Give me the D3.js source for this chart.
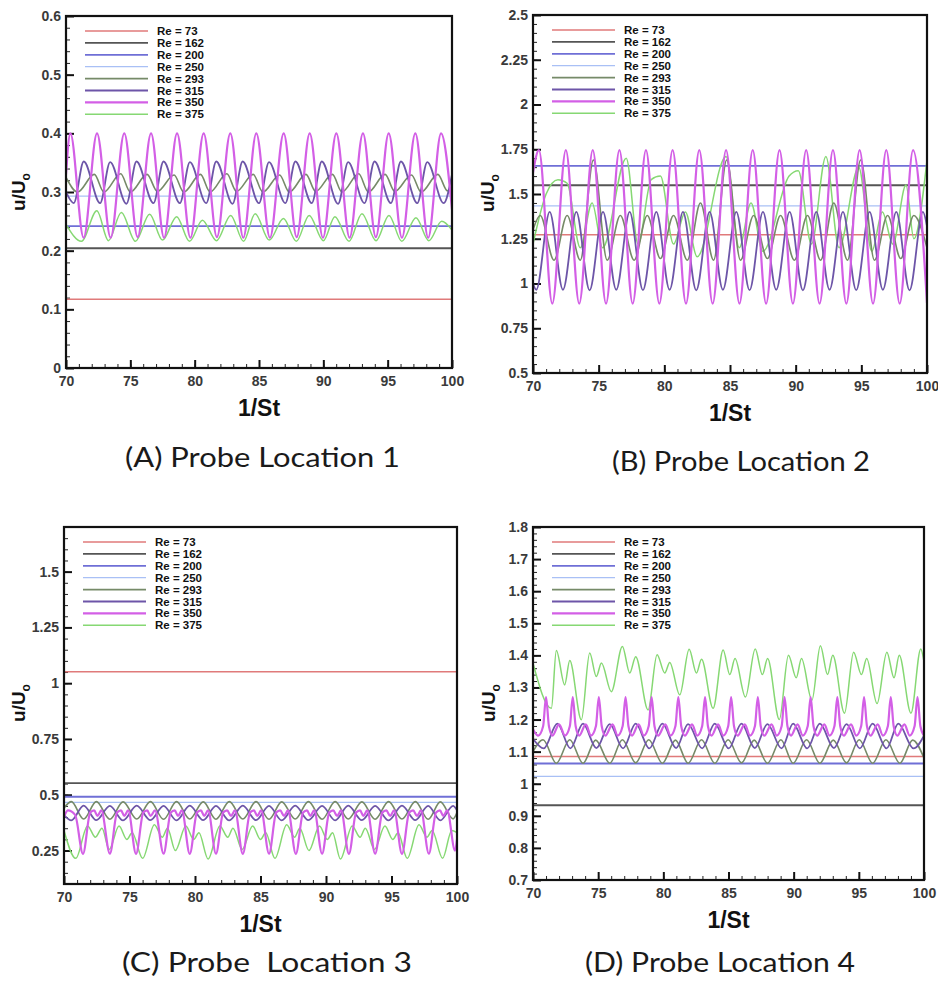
<!DOCTYPE html>
<html><head><meta charset="utf-8">
<script src="https://cdn.jsdelivr.net/npm/d3@7"></script>
<style>body{margin:0;background:#fff}svg{display:block}</style>
</head><body>
<svg id="chart" width="938" height="994"></svg>
<script>
// ---------- categories / ticks ----------
const reValues = [73, 162, 200, 250, 293, 315, 350, 375];
const xTicks = [70, 75, 80, 85, 90, 95, 100];
const yTicksA = [0, 0.1, 0.2, 0.3, 0.4, 0.5, 0.6];
const yTicksB = [0.5, 0.75, 1, 1.25, 1.5, 1.75, 2, 2.25, 2.5];
const yTicksC = [0.25, 0.5, 0.75, 1, 1.25, 1.5];
const yTicksD = [0.7, 0.8, 0.9, 1, 1.1, 1.2, 1.3, 1.4, 1.5, 1.6, 1.7, 1.8];
const captions = ["(A) Probe Location 1", "(B) Probe Location 2", "(C) Probe  Location 3", "(D) Probe Location 4"];

// ---------- Panel A (probe 1) ----------
const A73 = [[70,0.117],[100,0.117]];
const A162 = [[70,0.204],[100,0.204]];
const A200 = [[70,0.242],[100,0.242]];
const A250 = [[70,0.293],[100,0.293]];
const A293 = [[70,0.325],[70.9,0.300],[72.2,0.330],[72.95,0.300],[74.25,0.331],[75.0,0.300],[76.3,0.330],[77.1,0.301],[78.4,0.329],[79.15,0.300],[80.45,0.330],[81.2,0.300],[82.5,0.331],[83.25,0.301],[84.55,0.330],[85.3,0.300],[86.6,0.329],[87.35,0.300],[88.65,0.330],[89.4,0.301],[90.7,0.330],[91.45,0.300],[92.75,0.331],[93.5,0.300],[94.8,0.330],[95.55,0.301],[96.85,0.329],[97.6,0.300],[98.9,0.330],[99.65,0.302],[100,0.31]];
const A315 = [[70,0.30],[70.6,0.281],[71.38,0.352],[72.65,0.281],[73.43,0.351],[74.7,0.280],[75.48,0.352],[76.8,0.281],[77.58,0.352],[78.85,0.281],[79.63,0.351],[80.9,0.281],[81.68,0.352],[82.95,0.280],[83.73,0.352],[85.0,0.281],[85.78,0.351],[87.05,0.281],[87.83,0.352],[89.1,0.281],[89.88,0.352],[91.15,0.280],[91.93,0.351],[93.2,0.281],[93.98,0.352],[95.25,0.281],[96.03,0.352],[97.3,0.281],[98.08,0.351],[99.35,0.281],[100,0.33]];
const A350 = [[70,0.33],[70.34,0.40],[71.37,0.222],[72.41,0.40],[73.47,0.222],[74.53,0.40],[75.57,0.223],[76.61,0.40],[77.62,0.222],[78.63,0.40],[79.67,0.222],[80.70,0.40],[81.73,0.223],[82.77,0.40],[83.78,0.222],[84.79,0.40],[85.85,0.222],[86.92,0.40],[87.93,0.223],[88.94,0.40],[89.97,0.222],[91.01,0.40],[92.04,0.222],[93.08,0.40],[94.08,0.223],[95.08,0.40],[96.11,0.222],[97.15,0.40],[98.15,0.222],[99.15,0.40],[100,0.27]];
const A375 = [[70,0.245],[71.2,0.216],[72.4,0.268],[73.3,0.217],[74.3,0.265],[75.4,0.216],[76.5,0.262],[77.5,0.218],[78.6,0.258],[79.6,0.216],[80.6,0.252],[81.7,0.217],[82.8,0.26],[83.8,0.216],[84.7,0.263],[85.8,0.218],[86.9,0.255],[87.9,0.216],[88.9,0.26],[90.0,0.217],[90.9,0.258],[92.0,0.216],[93.0,0.263],[94.1,0.217],[95.1,0.26],[96.1,0.216],[97.2,0.256],[98.2,0.217],[99.2,0.25],[100,0.235]];

// ---------- Panel B (probe 2) ----------
const B73 = [[70,1.273],[100,1.273]];
const B162 = [[70,1.549],[100,1.549]];
const B200 = [[70,1.657],[100,1.657]];
const B250 = [[70,1.434],[100,1.434]];
const B293 = [[70,1.30],[70.55,1.38],[71.6,1.13],[72.6,1.38],[73.6,1.13],[74.6,1.69],[75.65,1.13],[76.65,1.38],[77.7,1.13],[78.7,1.38],[79.7,1.14],[80.7,1.38],[81.75,1.13],[82.75,1.45],[83.75,1.13],[84.75,1.69],[85.8,1.13],[86.8,1.38],[87.85,1.14],[88.85,1.38],[89.9,1.13],[90.9,1.38],[91.9,1.13],[92.9,1.45],[93.95,1.13],[94.95,1.69],[96.0,1.13],[97.0,1.38],[98.0,1.14],[99.0,1.38],[100,1.2]];
const B315 = [[70,1.0],[70.25,0.965],[71.27,1.40],[72.28,0.965],[73.3,1.40],[74.31,0.962],[75.33,1.40],[76.34,0.965],[77.36,1.40],[78.37,0.963],[79.39,1.40],[80.4,0.965],[81.42,1.40],[82.43,0.962],[83.45,1.40],[84.46,0.965],[85.48,1.40],[86.49,0.963],[87.51,1.40],[88.52,0.965],[89.54,1.40],[90.55,0.962],[91.57,1.40],[92.58,0.965],[93.6,1.40],[94.61,0.963],[95.63,1.40],[96.64,0.965],[97.66,1.40],[98.67,0.962],[99.69,1.40],[100,1.32]];
const B350 = [[70,1.62],[70.45,1.745],[71.47,0.888],[72.5,1.745],[73.52,0.888],[74.55,1.745],[75.56,0.888],[76.58,1.745],[77.59,0.888],[78.6,1.745],[79.62,0.888],[80.63,1.745],[81.65,0.888],[82.66,1.745],[83.68,0.888],[84.7,1.745],[85.72,0.888],[86.73,1.745],[87.75,0.888],[88.77,1.745],[89.79,0.888],[90.8,1.745],[91.82,0.888],[92.84,1.745],[93.86,0.888],[94.87,1.745],[95.89,0.888],[96.9,1.745],[97.92,0.888],[98.94,1.745],[100,0.89]];
const B375 = [[70,1.22],[71.0,1.50],[71.9,1.58],[72.6,1.56],[73.6,1.20],[74.5,1.45],[75.3,1.20],[77.1,1.70],[78.0,1.22],[79.0,1.58],[79.7,1.60],[80.7,1.22],[81.6,1.40],[82.5,1.15],[84.7,1.71],[85.7,1.20],[86.6,1.45],[87.5,1.18],[89.5,1.60],[90.2,1.63],[91.2,1.22],[92.3,1.71],[93.3,1.20],[94.8,1.65],[95.8,1.18],[96.6,1.40],[97.4,1.22],[98.4,1.55],[99.0,1.25],[100,1.69]];

// ---------- Panel C (probe 3) ----------
const C73 = [[70,1.051],[100,1.051]];
const C162 = [[70,0.552],[100,0.552]];
const C200 = [[70,0.491],[100,0.491]];
const C250 = [[70,0.466],[100,0.466]];
const C293 = [[70,0.44],[70.56,0.469],[71.5,0.391],[72.47,0.469],[73.5,0.39],[74.51,0.468],[75.55,0.391],[76.6,0.469],[77.6,0.39],[78.59,0.469],[79.6,0.391],[80.63,0.468],[81.6,0.39],[82.62,0.469],[83.65,0.391],[84.66,0.469],[85.65,0.39],[86.62,0.468],[87.65,0.391],[88.66,0.469],[89.7,0.39],[90.7,0.469],[91.7,0.391],[92.74,0.468],[93.75,0.39],[94.78,0.469],[95.8,0.391],[96.82,0.469],[97.8,0.39],[98.73,0.468],[99.7,0.392],[100,0.42]];
const C315 = [[70,0.41],[70.56,0.385],[71.5,0.451],[72.47,0.386],[73.5,0.45],[74.51,0.385],[75.55,0.451],[76.6,0.386],[77.6,0.45],[78.59,0.385],[79.6,0.451],[80.63,0.386],[81.6,0.45],[82.62,0.385],[83.65,0.451],[84.66,0.386],[85.65,0.45],[86.62,0.385],[87.65,0.451],[88.66,0.386],[89.7,0.45],[90.7,0.385],[91.7,0.451],[92.74,0.386],[93.75,0.45],[94.78,0.385],[95.8,0.451],[96.82,0.386],[97.8,0.45],[98.73,0.385],[99.7,0.45],[100,0.43]];
const C350 = [[70,0.40],[70.3,0.43],[70.85,0.41],[71.45,0.235],[72.0,0.42],[72.3,0.43],[72.55,0.405],[72.85,0.43],[73.5,0.236],[74.05,0.42],[74.35,0.43],[74.6,0.405],[74.9,0.43],[75.5,0.235],[76.05,0.42],[76.35,0.43],[76.6,0.405],[76.95,0.43],[77.6,0.236],[78.15,0.42],[78.45,0.43],[78.7,0.405],[79.0,0.43],[79.6,0.235],[80.15,0.42],[80.45,0.43],[80.7,0.405],[81.0,0.43],[81.6,0.236],[82.15,0.42],[82.45,0.43],[82.75,0.405],[83.05,0.43],[83.65,0.235],[84.2,0.42],[84.5,0.43],[84.75,0.405],[85.05,0.43],[85.65,0.236],[86.2,0.42],[86.5,0.43],[86.8,0.405],[87.1,0.43],[87.7,0.235],[88.25,0.42],[88.55,0.43],[88.8,0.405],[89.1,0.43],[89.7,0.236],[90.25,0.42],[90.55,0.43],[90.85,0.405],[91.15,0.43],[91.75,0.235],[92.3,0.42],[92.6,0.43],[92.85,0.405],[93.15,0.43],[93.75,0.236],[94.3,0.42],[94.6,0.43],[94.9,0.405],[95.2,0.43],[95.8,0.235],[96.35,0.42],[96.65,0.43],[96.95,0.405],[97.25,0.43],[97.85,0.236],[98.4,0.42],[98.7,0.43],[98.95,0.405],[99.25,0.43],[99.85,0.25],[100,0.30]];
const C375 = [[70,0.34],[70.9,0.215],[71.8,0.36],[72.4,0.31],[72.9,0.35],[73.45,0.255],[74.2,0.36],[74.8,0.30],[75.2,0.33],[76.0,0.215],[76.9,0.365],[77.5,0.31],[77.9,0.35],[78.5,0.25],[79.3,0.36],[79.9,0.30],[80.3,0.33],[81.0,0.212],[81.9,0.36],[82.5,0.31],[82.9,0.35],[83.6,0.255],[84.4,0.36],[85.0,0.30],[85.4,0.33],[86.1,0.215],[87.0,0.365],[87.6,0.31],[88.0,0.35],[88.7,0.25],[89.5,0.36],[90.1,0.30],[90.5,0.33],[91.1,0.212],[92.0,0.36],[92.6,0.31],[93.0,0.35],[93.7,0.255],[94.5,0.36],[95.1,0.30],[95.5,0.33],[96.2,0.215],[97.1,0.365],[97.7,0.31],[98.1,0.34],[98.9,0.215],[99.6,0.34],[100,0.33]];

// ---------- Panel D (probe 4) ----------
const D73 = [[70,1.085],[100,1.085]];
const D162 = [[70,0.933],[100,0.933]];
const D200 = [[70,1.063],[100,1.063]];
const D250 = [[70,1.023],[100,1.023]];
const D293 = [[70,1.10],[70.77,1.137],[71.79,1.064],[72.82,1.137],[73.84,1.064],[74.81,1.136],[75.89,1.064],[76.86,1.137],[77.88,1.065],[78.88,1.137],[79.93,1.064],[80.93,1.136],[81.9,1.064],[82.93,1.137],[83.95,1.064],[84.97,1.137],[86.0,1.065],[86.97,1.136],[87.99,1.064],[89.02,1.137],[89.96,1.064],[90.99,1.137],[92.01,1.064],[93.04,1.136],[94.06,1.065],[95.03,1.137],[96.06,1.064],[97.08,1.137],[98.15,1.064],[99.13,1.136],[100,1.08]];
const D315 = [[70,1.14],[70.82,1.11],[71.87,1.187],[72.87,1.11],[73.84,1.187],[74.86,1.111],[75.89,1.186],[76.91,1.11],[77.88,1.187],[78.93,1.11],[79.93,1.187],[80.98,1.111],[81.9,1.186],[82.98,1.11],[83.95,1.187],[85.02,1.11],[86.0,1.187],[87.02,1.111],[87.99,1.186],[89.07,1.11],[89.96,1.187],[91.04,1.11],[92.01,1.187],[93.09,1.111],[94.06,1.186],[95.08,1.11],[96.06,1.187],[97.13,1.11],[98.03,1.187],[99.2,1.11],[100,1.15]];
const D350 = [[70,1.17],[70.4,1.15],[70.78,1.18],[71.0,1.27],[71.22,1.18],[71.5,1.15],[72.0,1.185],[72.45,1.15],[72.83,1.18],[73.05,1.27],[73.27,1.18],[73.55,1.15],[74.05,1.185],[74.45,1.15],[74.83,1.18],[75.05,1.27],[75.27,1.18],[75.55,1.15],[76.1,1.185],[76.5,1.15],[76.88,1.18],[77.1,1.27],[77.32,1.18],[77.6,1.15],[78.1,1.185],[78.5,1.15],[78.88,1.18],[79.1,1.27],[79.32,1.18],[79.6,1.15],[80.15,1.185],[80.55,1.15],[80.93,1.18],[81.15,1.27],[81.37,1.18],[81.65,1.15],[82.2,1.185],[82.6,1.15],[82.98,1.18],[83.2,1.27],[83.42,1.18],[83.7,1.15],[84.2,1.185],[84.6,1.15],[84.98,1.18],[85.2,1.27],[85.42,1.18],[85.7,1.15],[86.25,1.185],[86.65,1.15],[87.03,1.18],[87.25,1.27],[87.47,1.18],[87.75,1.15],[88.3,1.185],[88.7,1.15],[89.08,1.18],[89.3,1.27],[89.52,1.18],[89.8,1.15],[90.3,1.185],[90.7,1.15],[91.08,1.18],[91.3,1.27],[91.52,1.18],[91.8,1.15],[92.35,1.185],[92.75,1.15],[93.13,1.18],[93.35,1.27],[93.57,1.18],[93.85,1.15],[94.4,1.185],[94.8,1.15],[95.18,1.18],[95.4,1.27],[95.62,1.18],[95.9,1.15],[96.45,1.185],[96.85,1.15],[97.23,1.18],[97.45,1.27],[97.67,1.18],[97.95,1.15],[98.5,1.185],[98.9,1.15],[99.28,1.18],[99.5,1.27],[99.72,1.18],[100,1.15]];
const D375 = [[70,1.376],[71.41,1.235],[71.79,1.415],[72.43,1.308],[72.82,1.384],[73.71,1.199],[74.35,1.407],[74.86,1.334],[75.25,1.376],[76.01,1.287],[76.86,1.428],[77.42,1.345],[77.88,1.396],[78.83,1.230],[79.52,1.402],[80.11,1.345],[80.49,1.378],[81.26,1.277],[81.98,1.419],[82.54,1.345],[82.93,1.388],[83.82,1.235],[84.59,1.417],[85.1,1.34],[85.5,1.39],[86.3,1.27],[87.05,1.42],[87.6,1.34],[88.0,1.39],[88.9,1.20],[89.6,1.40],[90.2,1.33],[90.6,1.39],[91.4,1.26],[92.05,1.43],[92.6,1.34],[93.0,1.40],[93.9,1.22],[94.6,1.41],[95.2,1.34],[95.6,1.39],[96.4,1.25],[97.15,1.41],[97.7,1.33],[98.1,1.40],[99.0,1.22],[99.75,1.42],[100,1.38]];

// ---------- styles (not data) ----------
const colors = {73:"#e07a7a",162:"#555555",200:"#6f6fd6",250:"#a9c0f5",293:"#768a68",315:"#6d55a8",350:"#d35fe6",375:"#86d873"};
const widths = {73:1.5,162:1.9,200:1.8,250:1.3,293:1.6,315:1.8,350:2.2,375:1.5};
const drawOrder = [73,162,200,250,375,293,315,350];

const panels = [
  {id:"A", l:66, t:16, r:452, b:368, yDom:[0,0.6], yTicks:yTicksA, yMinorStep:0.02,
   series:[A73,A162,A200,A250,A293,A315,A350,A375], cap:captions[0], capX:125, capY:467, capW:275,
   ytx:18, yty:192},
  {id:"B", l:533, t:15, r:927, b:373, yDom:[0.5,2.5], yTicks:yTicksB, yMinorStep:0.05,
   series:[B73,B162,B200,B250,B293,B315,B350,B375], cap:captions[1], capX:612, capY:471, capW:258,
   ytx:487, yty:193},
  {id:"C", l:64, t:527, r:457, b:884, yDom:[0.1,1.7], yTicks:yTicksC, yMinorStep:0.05,
   series:[C73,C162,C200,C250,C293,C315,C350,C375], cap:captions[2], capX:122, capY:972, capW:290,
   ytx:18, yty:703},
  {id:"D", l:533, t:527, r:924, b:880, yDom:[0.7,1.8], yTicks:yTicksD, yMinorStep:0.02,
   series:[D73,D162,D200,D250,D293,D315,D350,D375], cap:captions[3], capX:585, capY:972, capW:270,
   ytx:488, yty:703}
];

const svg = d3.select("#chart");
const defs = svg.append("defs");

panels.forEach(p => {
  const x = d3.scaleLinear().domain([70,100]).range([p.l, p.r]);
  const y = d3.scaleLinear().domain(p.yDom).range([p.b, p.t]);
  const g = svg.append("g");

  defs.append("clipPath").attr("id","clip"+p.id)
    .append("rect").attr("x",p.l).attr("y",p.t).attr("width",p.r-p.l).attr("height",p.b-p.t);

  // minor ticks
  const yMinor = d3.range(p.yDom[0], p.yDom[1]+1e-9, p.yMinorStep);
  const xMinor = d3.range(70, 100.001, 1);
  g.append("g").attr("transform",`translate(${p.l},0)`)
    .call(d3.axisLeft(y).tickValues(yMinor).tickSize(-4).tickFormat(""))
    .call(s=>{s.select(".domain").remove(); s.selectAll("line").attr("stroke","#222").attr("stroke-width",1);});
  g.append("g").attr("transform",`translate(0,${p.b})`)
    .call(d3.axisBottom(x).tickValues(xMinor).tickSize(-4).tickFormat(""))
    .call(s=>{s.select(".domain").remove(); s.selectAll("line").attr("stroke","#222").attr("stroke-width",1);});

  // major ticks + labels
  g.append("g").attr("transform",`translate(${p.l},0)`)
    .call(d3.axisLeft(y).tickValues(p.yTicks).tickSize(-8).tickPadding(5).tickFormat(d=>String(d)))
    .call(s=>{s.select(".domain").remove(); s.selectAll("line").attr("stroke","#111").attr("stroke-width",2);
      s.selectAll("text").attr("font-family","Liberation Sans, Arial, sans-serif").attr("font-size",14)
       .attr("font-weight","bold").attr("fill","#3a3a3a");});
  g.append("g").attr("transform",`translate(0,${p.b})`)
    .call(d3.axisBottom(x).tickValues(xTicks).tickSize(-8).tickPadding(8).tickFormat(d=>String(d)))
    .call(s=>{s.select(".domain").remove(); s.selectAll("line").attr("stroke","#111").attr("stroke-width",2);
      s.selectAll("text").attr("font-family","Liberation Sans, Arial, sans-serif").attr("font-size",14)
       .attr("font-weight","bold").attr("fill","#3a3a3a");});

  // series
  const line = d3.line().x(d=>x(d[0])).y(d=>y(d[1])).curve(d3.curveMonotoneX);
  const sg = g.append("g").attr("clip-path",`url(#clip${p.id})`);
  drawOrder.forEach(re => {
    const i = reValues.indexOf(re);
    sg.append("path").datum(p.series[i]).attr("d",line)
      .attr("fill","none").attr("stroke",colors[re]).attr("stroke-width",widths[re])
      .attr("stroke-linejoin","round");
  });

  // frame
  g.append("rect").attr("x",p.l).attr("y",p.t).attr("width",p.r-p.l).attr("height",p.b-p.t)
    .attr("fill","none").attr("stroke","#111").attr("stroke-width",2.2);

  // legend
  const lg = g.append("g");
  reValues.forEach((re,k) => {
    const yy = p.t + 15 + k*11.9;
    lg.append("line").attr("x1",p.l+19).attr("x2",p.l+82).attr("y1",yy).attr("y2",yy)
      .attr("stroke",colors[re]).attr("stroke-width",widths[re]);
    lg.append("text").attr("x",p.l+91).attr("y",yy+4).text("Re = "+re)
      .attr("font-family","Liberation Sans, Arial, sans-serif").attr("font-size",11.5)
      .attr("font-weight","bold").attr("fill","#111");
  });

  // x title
  g.append("text").attr("x",(p.l+p.r)/2).attr("y",p.b+48).attr("text-anchor","middle")
    .attr("font-family","Liberation Sans, Arial, sans-serif").attr("font-size",23).attr("font-weight","bold")
    .attr("fill","#111").text("1/St");

  // y title
  const yt = g.append("text").attr("transform",`translate(${p.ytx},${p.yty}) rotate(-90)`)
    .attr("text-anchor","middle").attr("dy","0.35em")
    .attr("font-family","Liberation Sans, Arial, sans-serif").attr("font-size",19).attr("font-weight","bold")
    .attr("fill","#111");
  yt.append("tspan").text("u/U");
  yt.append("tspan").attr("dy",5).attr("font-size",12).text("o");

  // caption
  g.append("text").attr("x",p.capX).attr("y",p.capY).attr("textLength",p.capW).attr("lengthAdjust","spacingAndGlyphs")
    .attr("font-family","Lato, 'Open Sans', sans-serif").attr("font-size",26).attr("fill","#1a1a1a")
    .attr("xml:space","preserve").style("white-space","pre").text(p.cap);
});
</script>
</body></html>
